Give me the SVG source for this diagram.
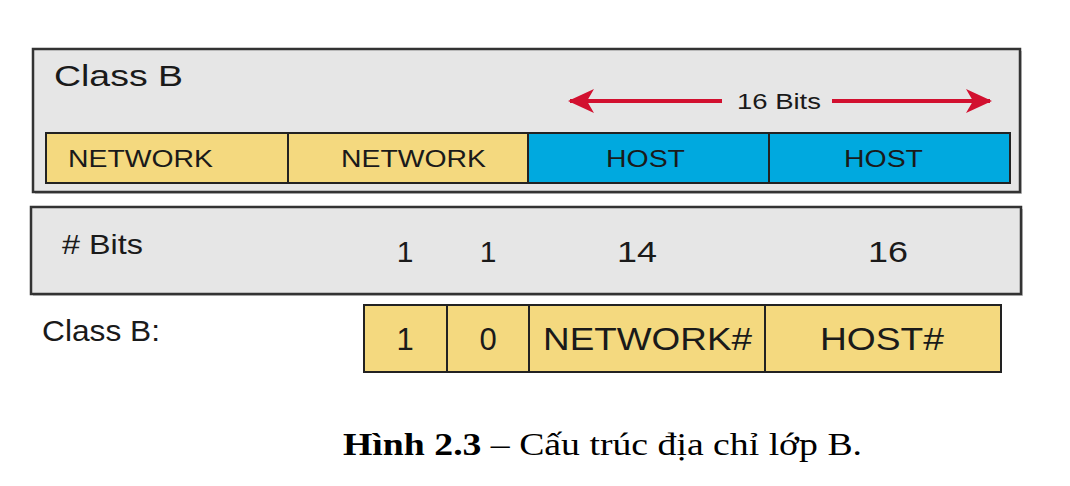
<svg xmlns="http://www.w3.org/2000/svg" width="1070" height="486" viewBox="0 0 1070 486">
<style>
.panel{fill:#e6e6e6;stroke:#333;stroke-width:2.5}
.shadow{fill:#c8c8c8}
.net{fill:#f4d97f;stroke:#222;stroke-width:2}
.host{fill:#00a9df;stroke:#222;stroke-width:2}
.t{font-family:"Liberation Sans",Arial,sans-serif;fill:#1a1a1a}
.arr{stroke:#d2102f;stroke-width:4;fill:none}
.cap{font-family:"Liberation Serif","Times New Roman",serif;font-size:32px;fill:#000}
</style>
<defs>
<marker id="ah" viewBox="0 0 26 24" refX="24" refY="12" markerWidth="26" markerHeight="24" markerUnits="userSpaceOnUse" orient="auto">
<path d="M0,0 L26,12 L0,24 L7,12 Z" fill="#d2102f"/>
</marker>
</defs>
<g id="classB-panel">
<rect class="shadow" x="35" y="51" width="987" height="143"/>
<rect class="panel" x="33" y="49" width="987" height="143"/>
<text class="t" x="54" y="86" font-size="29" textLength="129" lengthAdjust="spacingAndGlyphs">Class B</text>
</g>
<g id="connectors">
<line class="arr" x1="722" y1="101" x2="570" y2="101" marker-end="url(#ah)"/>
<line class="arr" x1="832" y1="101" x2="990" y2="101" marker-end="url(#ah)"/>
</g>
<g id="bits-label">
<text class="t" x="737" y="109" font-size="22" textLength="84" lengthAdjust="spacingAndGlyphs">16 Bits</text>
</g>
<g id="net1"><rect class="net" x="46" y="133" width="242" height="50"/><text class="t" x="68" y="167" font-size="24" textLength="145" lengthAdjust="spacingAndGlyphs">NETWORK</text></g>
<g id="net2"><rect class="net" x="288" y="133" width="240" height="50"/><text class="t" x="341" y="167" font-size="24" textLength="145" lengthAdjust="spacingAndGlyphs">NETWORK</text></g>
<g id="host1"><rect class="host" x="528" y="133" width="241" height="50"/><text class="t" x="606" y="167" font-size="24" textLength="79" lengthAdjust="spacingAndGlyphs">HOST</text></g>
<g id="host2"><rect class="host" x="769" y="133" width="241" height="50"/><text class="t" x="844" y="167" font-size="24" textLength="79" lengthAdjust="spacingAndGlyphs">HOST</text></g>
<g id="bits-panel">
<rect class="shadow" x="33" y="209" width="990" height="87"/>
<rect class="panel" x="31" y="207" width="990" height="87"/>
<text class="t" x="62" y="254" font-size="28" textLength="81" lengthAdjust="spacingAndGlyphs"># Bits</text>
<text class="t" x="405" y="262" font-size="30" text-anchor="middle">1</text>
<text class="t" x="488" y="262" font-size="30" text-anchor="middle">1</text>
<text class="t" x="617" y="262" font-size="30" textLength="40" lengthAdjust="spacingAndGlyphs">14</text>
<text class="t" x="868" y="262" font-size="30" textLength="40" lengthAdjust="spacingAndGlyphs">16</text>
</g>
<g id="classB-label"><text class="t" x="42" y="341" font-size="29" textLength="118" lengthAdjust="spacingAndGlyphs">Class B:</text></g>
<g id="bit1"><rect class="net" x="364" y="305" width="83" height="67"/><text class="t" x="405" y="350" font-size="31" text-anchor="middle">1</text></g>
<g id="bit0"><rect class="net" x="447" y="305" width="82" height="67"/><text class="t" x="488" y="350" font-size="31" text-anchor="middle">0</text></g>
<g id="netnum"><rect class="net" x="529" y="305" width="236" height="67"/><text class="t" x="543" y="350" font-size="31" textLength="209" lengthAdjust="spacingAndGlyphs">NETWORK#</text></g>
<g id="hostnum"><rect class="net" x="765" y="305" width="236" height="67"/><text class="t" x="820" y="350" font-size="31" textLength="124" lengthAdjust="spacingAndGlyphs">HOST#</text></g>
<g id="caption">
<text class="cap" x="343" y="455" textLength="519" lengthAdjust="spacingAndGlyphs"><tspan font-weight="bold">Hình 2.3</tspan> – Cấu trúc địa chỉ lớp B.</text>
</g>
</svg>
